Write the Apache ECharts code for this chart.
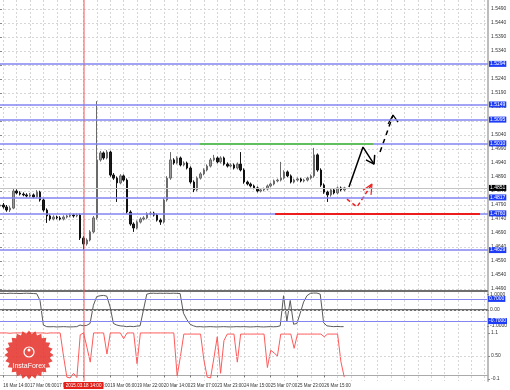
<!DOCTYPE html>
<html><head><meta charset="utf-8">
<script src="https://cdn.jsdelivr.net/npm/echarts@6/dist/echarts.min.js"></script>
<style>html,body{margin:0;padding:0;background:#fff}#c{width:510px;height:390px}</style>
</head><body><div id="c"></div>
<script>
// ---- data ----
const tickLabels = ['16 Mar 14:00','17 Mar 06:00','17 Mar 22:00','18 Mar 14:00','19 Mar 06:00','19 Mar 22:00','20 Mar 14:00','23 Mar 07:00','23 Mar 23:00','24 Mar 15:00','25 Mar 07:00','25 Mar 23:00','26 Mar 15:00'];
const slotCount = 147;
const opens = [
1.4786,1.4790,1.4783,1.4772,1.4779,1.4840,1.4833,1.4829,1.4826,1.4822,
1.4826,1.4819,1.4836,1.4808,1.4772,1.4751,1.4740,1.4747,1.4744,1.4740,
1.4747,1.4751,1.4754,1.4751,1.4754,1.4672,1.4651,1.4665,1.4694,1.4744,
1.4951,1.4976,1.4958,1.4979,1.4897,1.4886,1.4869,1.4894,1.4879,1.4765,
1.4722,1.4708,1.4729,1.4740,1.4744,1.4758,1.4761,1.4754,1.4736,1.4729,
1.4808,1.4886,1.4951,1.4940,1.4958,1.4933,1.4940,1.4922,1.4872,1.4844,
1.4886,1.4901,1.4915,1.4929,1.4951,1.4958,1.4944,1.4958,1.4936,1.4929,
1.4933,1.4922,1.4936,1.4915,1.4872,1.4865,1.4858,1.4851,1.4840,1.4844,
1.4847,1.4858,1.4865,1.4876,1.4879,1.4886,1.4908,1.4894,1.4872,1.4879,
1.4883,1.4876,1.4879,1.4886,1.4894,1.4969,1.4915,1.4861,1.4836,1.4826,
1.4844,1.4833,1.4851,1.4844];
const closes = [
1.4790,1.4783,1.4772,1.4779,1.4840,1.4833,1.4829,1.4826,1.4822,1.4826,
1.4819,1.4836,1.4808,1.4772,1.4751,1.4740,1.4747,1.4744,1.4740,1.4747,
1.4751,1.4754,1.4751,1.4754,1.4672,1.4651,1.4665,1.4694,1.4744,1.4951,
1.4976,1.4958,1.4979,1.4897,1.4886,1.4869,1.4894,1.4879,1.4765,1.4722,
1.4708,1.4729,1.4740,1.4744,1.4758,1.4761,1.4754,1.4736,1.4729,1.4808,
1.4886,1.4951,1.4940,1.4958,1.4933,1.4940,1.4922,1.4872,1.4844,1.4886,
1.4901,1.4915,1.4929,1.4951,1.4958,1.4944,1.4958,1.4936,1.4929,1.4933,
1.4922,1.4936,1.4915,1.4872,1.4865,1.4858,1.4851,1.4840,1.4844,1.4847,
1.4858,1.4865,1.4876,1.4879,1.4886,1.4908,1.4894,1.4872,1.4879,1.4883,
1.4876,1.4879,1.4886,1.4894,1.4969,1.4915,1.4861,1.4836,1.4826,1.4844,
1.4833,1.4851,1.4844,1.4851];
const highs = [
1.4795,1.4797,1.4790,1.4786,1.4847,1.4846,1.4839,1.4835,1.4832,1.4833,
1.4831,1.4843,1.4841,1.4813,1.4778,1.4757,1.4753,1.4752,1.4750,1.4753,
1.4756,1.4760,1.4759,1.4760,1.4759,1.4679,1.4671,1.4700,1.4751,1.5161,
1.4983,1.4981,1.4986,1.4984,1.4904,1.4892,1.4900,1.4899,1.4885,1.4771,
1.4728,1.4735,1.4746,1.4750,1.4764,1.4767,1.4766,1.4759,1.4742,1.4814,
1.4893,1.4979,1.4957,1.4964,1.4963,1.4946,1.4945,1.4928,1.4878,1.4892,
1.4907,1.4921,1.4935,1.4958,1.4969,1.4963,1.4964,1.4963,1.4942,1.4939,
1.4938,1.4942,1.4979,1.4921,1.4877,1.4870,1.4863,1.4856,1.4849,1.4852,
1.4863,1.4870,1.4881,1.4884,1.4944,1.4914,1.4913,1.4899,1.4884,1.4888,
1.4887,1.4884,1.4891,1.4899,1.4994,1.4974,1.4921,1.4867,1.4841,1.4849,
1.4849,1.4856,1.4856,1.4855];
const lows = [
1.4781,1.4777,1.4766,1.4765,1.4775,1.4828,1.4824,1.4821,1.4817,1.4817,
1.4814,1.4814,1.4802,1.4766,1.4726,1.4734,1.4735,1.4739,1.4735,1.4735,
1.4742,1.4746,1.4745,1.4746,1.4665,1.4629,1.4645,1.4660,1.4689,1.4738,
1.4945,1.4952,1.4953,1.4891,1.4880,1.4801,1.4864,1.4874,1.4759,1.4716,
1.4694,1.4703,1.4724,1.4735,1.4739,1.4753,1.4749,1.4731,1.4719,1.4724,
1.4802,1.4880,1.4934,1.4935,1.4928,1.4928,1.4917,1.4866,1.4836,1.4839,
1.4881,1.4896,1.4910,1.4924,1.4946,1.4939,1.4939,1.4931,1.4924,1.4924,
1.4917,1.4917,1.4910,1.4866,1.4860,1.4853,1.4846,1.4835,1.4835,1.4839,
1.4842,1.4853,1.4860,1.4871,1.4874,1.4881,1.4889,1.4867,1.4867,1.4874,
1.4871,1.4871,1.4874,1.4881,1.4888,1.4909,1.4855,1.4830,1.4801,1.4820,
1.4828,1.4828,1.4839,1.4839];
const oscValues = [
1.05,
1.05,1.04,1.06,1.05,1.05,1.04,1.05,1.06,1.05,1.04,1.03,
0.6,-0.95,
-1.05,-1.06,-1.05,-1.07,-1.06,-1.05,-1.06,-1.07,-1.06,-1.05,
-0.95,-1.0,-0.97,-0.85,0.3,0.85,
0.9,0.92,0.88,
0.2,-0.85,
-0.95,-1.0,-1.02,-1.05,-1.03,-1.05,-1.02,-1.0,
0.0,1.0,
1.05,1.06,1.05,1.06,1.05,1.06,1.05,1.06,1.05,1.04,
-0.2,-0.6,-0.9,-1.0,
-1.06,-1.05,-1.07,-1.06,-1.05,-1.06,-1.07,-1.06,-1.05,-1.06,-1.07,-1.06,-1.05,-1.06,-1.05,-1.06,-1.07,-1.06,-1.05,-1.06,-1.07,-1.06,-1.05,-1.06,-1.05,
-1.0,0.9,-0.7,0.6,-0.9,
-0.85,-0.2,0.5,0.9,1.05,1.07,1.07,1.0,
-0.8,-1.0,
-1.03,-1.05,-1.04,-1.05,-1.05];
const ratioValues = [
1.1,
1.1,1.1,1.09,1.1,1.1,1.1,1.1,1.09,1.1,1.1,1.1,1.1,1.1,1.09,1.1,1.1,1.1,1.1,
0.5,-0.05,-0.07,0.05,-0.06,1.05,1.1,0.73,0.34,
1.1,1.1,1.1,1.1,
0.55,
1.1,1.1,1.1,1.1,
0.95,
1.1,1.1,1.1,
0.3,
1.1,1.1,1.1,1.1,1.1,1.1,1.1,1.1,1.1,1.1,
1.1,-0.02,0.5,
1.07,1.07,1.07,1.07,1.07,1.07,
0.4,-0.05,-0.07,0.45,1.0,0.05,0.9,
1.07,1.07,1.07,
0.34,
1.07,1.07,1.07,1.07,1.07,1.07,1.07,1.07,
0.2,0.65,0.58,0.5,
1.07,1.07,1.07,1.07,
0.7,
1.07,1.07,1.07,1.07,1.07,1.07,1.07,1.07,1.0,1.07,1.07,1.07,1.07,
0.35,-0.05];
const levels = [1.5294, 1.5149, 1.5095, 1.5010, 1.4817, 1.4760, 1.4629];
const oscLevels = [0.7, -0.7];
const greenLine = [[59.8, 1.5010], [111.6, 1.5010]];
const redLine = [[82.3, 1.4760], [143.6, 1.4760]];
const forecastUp = [[104.4, 1.4854], [108.6, 1.4997], [111.9, 1.4936]];
const forecastUpHead = [[109.5, 1.4951], [111.9, 1.4936], [112.1, 1.4969]];
const forecastNext = [[113.7, 1.4979], [117.6, 1.5111]];
const forecastNextHead = [[116.1, 1.5079], [117.6, 1.5111], [119.1, 1.5086]];
const altPath = [[103.8, 1.4811], [106.8, 1.4783], [111.3, 1.4865]];
const altHead = [[108.6, 1.4843], [111.3, 1.4865], [111.0, 1.4826]];
const eventIndex = 25;
const eventLabel = '2015.03.18 14:00';

// ---- build ----
const categories = Array.from({length: slotCount}, (_, j) =>
  ((j - 1) % 8 === 0 && (j - 1) / 8 < tickLabels.length) ? tickLabels[(j - 1) / 8] : 'b' + j);
const candles = opens.map((o, i) => [o, closes[i], lows[i], highs[i]]);
const currentPrice = closes[closes.length - 1];
const labelFn = (i) => (i - 1) % 8 === 0 && (i - 1) / 8 < tickLabels.length;
const FONT = 'Liberation Sans';
const W = 488;

const star = [];
for (let k = 0; k < 48; k++) {
  const r = k % 2 ? 21 : 24.5;
  const a = Math.PI * k / 24;
  star.push([29 + r * Math.cos(a), 355 + r * Math.sin(a)]);
}

const hidden = {show: false};
const blueLabel = (fmt) => ({show: true, position: 'end', formatter: fmt, color: '#fff',
  backgroundColor: '#1e3cf5', fontSize: 5, fontFamily: FONT, padding: [1, 1, 0, 1], distance: 1});

const chart = echarts.init(document.getElementById('c'), null, {renderer: 'canvas'});
chart.setOption({
  animation: false,
  backgroundColor: '#fff',
  textStyle: {fontFamily: FONT},
  grid: [
    {left: 0, top: 0, width: W, height: 381},
    {left: 0, top: 9, width: W, height: 280},
    {left: 0, top: 291, width: W, height: 38},
    {left: 0, top: 331, width: W, height: 50}
  ],
  xAxis: [
    {type: 'category', gridIndex: 0, data: categories, boundaryGap: false,
     axisLine: hidden, axisTick: hidden, axisLabel: hidden,
     splitLine: {show: true, interval: (i) => (i - 1) % 4 === 0, lineStyle: {color: '#d6d6d6', type: [2, 2], width: 1}}},
    {type: 'category', gridIndex: 1, data: categories, boundaryGap: false, show: false},
    {type: 'value', gridIndex: 1, min: 0, max: slotCount - 1, show: false},
    {type: 'category', gridIndex: 2, data: categories, boundaryGap: false, position: 'bottom',
     axisLine: {lineStyle: {color: '#6e6e6e', width: 2}}, axisTick: hidden, axisLabel: hidden, splitLine: hidden},
    {type: 'category', gridIndex: 2, data: categories, boundaryGap: false, position: 'top',
     axisLine: {lineStyle: {color: '#6e6e6e', width: 2}}, axisTick: hidden, axisLabel: hidden, splitLine: hidden},
    {type: 'category', gridIndex: 3, data: categories, boundaryGap: false, position: 'bottom',
     axisLine: {lineStyle: {color: '#aaa', width: 1}},
     axisTick: {show: true, interval: labelFn, length: 2, lineStyle: {color: '#777'}},
     axisLabel: {show: true, interval: labelFn, fontSize: 4.5, color: '#333', align: 'left', margin: 2,
       showMinLabel: true, showMaxLabel: true, hideOverlap: false},
     splitLine: hidden}
  ],
  yAxis: [
    {type: 'value', gridIndex: 0, min: 0, max: 1, position: 'right',
     axisLine: {show: true, lineStyle: {color: '#bdbdbd', width: 2}}, axisTick: hidden, axisLabel: hidden, splitLine: hidden},
    {type: 'value', gridIndex: 1, min: 1.4490, max: 1.5490, interval: 0.005, position: 'right',
     axisLine: hidden, axisTick: {show: true, length: 2, lineStyle: {color: '#888'}},
     axisLabel: {fontSize: 5, color: '#333', margin: 3, formatter: (v) => v.toFixed(4)},
     splitLine: {show: true, lineStyle: {color: '#d6d6d6', type: [2, 2]}}},
    {type: 'value', gridIndex: 2, min: -1.2, max: 1.2, position: 'right',
     axisLine: hidden, axisTick: {show: true, length: 2, customValues: [1, 0, -1], lineStyle: {color: '#888'}},
     axisLabel: {fontSize: 5, color: '#333', margin: 3, customValues: [1, 0, -1],
       formatter: (v) => v === 0 ? '0.00' : v.toFixed(4)},
     splitLine: hidden},
    {type: 'value', gridIndex: 3, min: -0.15, max: 1.15, position: 'right',
     axisLine: hidden, axisTick: {show: true, length: 2, customValues: [1.1, 0.5, -0.1], lineStyle: {color: '#888'}},
     axisLabel: {fontSize: 5, color: '#333', margin: 3, customValues: [1.1, 0.5, -0.1],
       formatter: (v) => Math.abs(v - 0.5) < 1e-9 ? '0.50' : v.toFixed(1)},
     splitLine: hidden}
  ],
  series: [
    {type: 'line', xAxisIndex: 0, yAxisIndex: 0, data: [], silent: true,
     markLine: {silent: true, symbol: 'none', animation: false, precision: 4,
       lineStyle: {color: 'rgba(240,90,90,0.5)', width: 2, type: 'solid'},
       label: {show: true, position: 'start', formatter: eventLabel, color: '#fff', backgroundColor: '#e3211b',
         fontSize: 4.6, padding: [1, 2, 1, 2], distance: 1},
       data: [{xAxis: eventIndex}]}},
    {type: 'candlestick', xAxisIndex: 1, yAxisIndex: 1, data: candles, barWidth: 2,
     itemStyle: {color: '#9a9a9a', color0: '#1a1a1a', borderColor: '#6a6a6a', borderColor0: '#111', borderWidth: 1},
     markLine: {silent: true, symbol: 'none', precision: 4,
       lineStyle: {color: '#c4c4c4', width: 1, type: 'solid'},
       label: {show: true, position: 'end', formatter: (p) => Number(p.value).toFixed(4), color: '#fff', backgroundColor: '#000',
         fontSize: 5, padding: [1, 1, 0, 1], distance: 1},
       data: [{yAxis: currentPrice}]}},
    {type: 'line', xAxisIndex: 2, yAxisIndex: 1, data: [], silent: true,
     markLine: {silent: true, symbol: 'none', precision: 4,
       data: levels.map((v) => ({yAxis: v, lineStyle: {color: '#8585f2', width: 1.5, type: 'solid'},
         label: blueLabel((p) => Number(p.value).toFixed(4))})).concat([
         [{coord: greenLine[0], lineStyle: {color: '#5fbf5f', width: 2, type: 'solid'}, label: {show: false}},
          {coord: greenLine[1]}],
         [{coord: redLine[0], lineStyle: {color: '#ee1c1c', width: 2, type: 'solid'}, label: {show: false}},
          {coord: redLine[1]}]
       ])}},
    {type: 'line', xAxisIndex: 2, yAxisIndex: 1, data: forecastUp, symbol: 'none', silent: true,
     lineStyle: {color: '#000', width: 1.5}},
    {type: 'line', xAxisIndex: 2, yAxisIndex: 1, data: forecastUpHead, symbol: 'none', silent: true,
     lineStyle: {color: '#000', width: 1.5}},
    {type: 'line', xAxisIndex: 2, yAxisIndex: 1, data: forecastNext, symbol: 'none', silent: true,
     lineStyle: {color: '#000', width: 1.5, type: [5, 4]}},
    {type: 'line', xAxisIndex: 2, yAxisIndex: 1, data: forecastNextHead, symbol: 'none', silent: true,
     lineStyle: {color: '#000', width: 1.2}},
    {type: 'line', xAxisIndex: 2, yAxisIndex: 1, data: altPath, symbol: 'none', silent: true,
     lineStyle: {color: '#f02020', width: 1.5, type: [4, 3]}},
    {type: 'line', xAxisIndex: 2, yAxisIndex: 1, data: altHead, symbol: 'none', silent: true,
     lineStyle: {color: '#f02020', width: 1.2}},
    {type: 'line', xAxisIndex: 3, yAxisIndex: 2, data: oscValues, symbol: 'none', silent: true,
     lineStyle: {color: '#5a5a5a', width: 1},
     markLine: {silent: true, symbol: 'none', precision: 4,
       data: oscLevels.map((v) => ({yAxis: v, lineStyle: {color: '#8585f2', width: 1.2, type: 'solid'},
         label: blueLabel((p) => Number(p.value).toFixed(4))})).concat([
         {yAxis: 0, lineStyle: {color: '#d6d6d6', width: 1, type: [2, 2]}, label: {show: false}}])}},
    {type: 'line', xAxisIndex: 5, yAxisIndex: 3, data: ratioValues, symbol: 'none', silent: true,
     lineStyle: {color: '#ff5a5a', width: 1},
     markLine: {silent: true, symbol: 'none', precision: 4,
       data: [{yAxis: 0.5, lineStyle: {color: '#d6d6d6', width: 1, type: [2, 2]}, label: {show: false}}]}}
  ],
  graphic: [
    {type: 'polygon', shape: {points: star}, style: {fill: 'rgba(230,52,46,0.88)'}, z: 100, silent: true},
    {type: 'circle', shape: {cx: 29, cy: 352, r: 5}, style: {fill: 'none', stroke: '#fff', lineWidth: 1.2}, z: 101, silent: true},
    {type: 'circle', shape: {cx: 29, cy: 350, r: 1.5}, style: {fill: '#fff'}, z: 101, silent: true},
    {type: 'text', x: 29, y: 366, style: {text: 'InstaForex', fill: '#fff', font: '7px "Liberation Sans"', align: 'center', verticalAlign: 'middle'}, z: 101, silent: true}
  ]
});
</script>
</body></html>
